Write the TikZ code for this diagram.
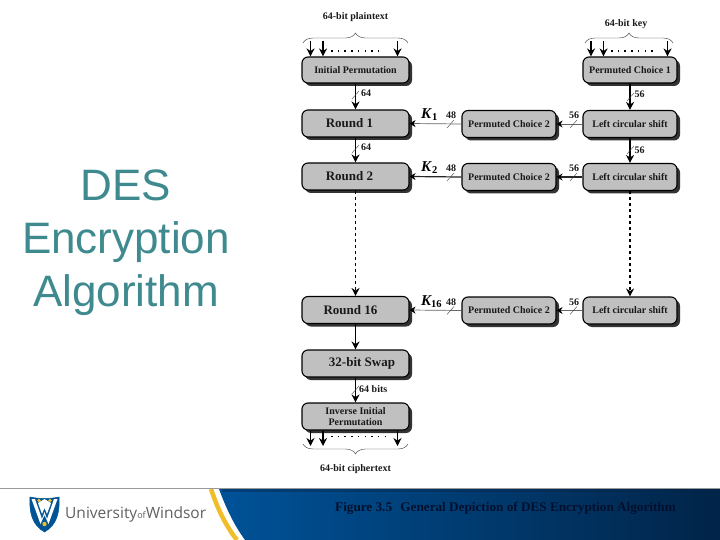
\documentclass[tikz,border=0pt]{standalone}
\usepackage{fontspec}
\setmainfont{Liberation Serif}
\newfontfamily\titlefont{Liberation Sans}
\newfontfamily\logofont{Open Sans}
\usetikzlibrary{arrows.meta,decorations.pathreplacing}
\definecolor{boxgray}{RGB}{192,192,192}
\definecolor{titleteal}{RGB}{62,138,143}
\definecolor{bandleft}{RGB}{0,82,152}
\definecolor{bandright}{RGB}{1,36,72}
\definecolor{capnavy}{RGB}{2,16,46}
\definecolor{logoblue}{RGB}{0,84,150}
\definecolor{logogold}{RGB}{240,190,40}
\tikzset{
  x=1pt,y=-1pt,
  stepbox/.style={draw=black,line width=1.1pt,fill=boxgray,rounded corners=6pt,inner sep=0pt,align=center,
    text=black!90,
    preaction={draw=none,fill=black!80,transform canvas={xshift=3pt,yshift=-3pt}}},
  lbox/.style={stepbox,minimum width=107pt},
  rbox/.style={stepbox,minimum width=94pt,minimum height=27pt,font=\bfseries\fontsize{10}{10}\selectfont},
  bigbox/.style={lbox,minimum height=27pt,font=\bfseries\fontsize{13}{13}\selectfont},
  smallbox/.style={lbox,font=\bfseries\fontsize{10}{10.5}\selectfont},
  flow/.style={draw=black,line width=1.2pt,-{Stealth[length=8pt,width=8pt]}},
  thinflow/.style={draw=black!60,line width=.7pt,-{Stealth[length=6pt,width=7pt,color=black]}},
  darkflow/.style={draw=black!85,line width=1.2pt,-{Stealth[length=6pt,width=7pt,color=black]}},
  dots/.style={draw=black,line width=1.1pt,dash pattern=on 1.5pt off 5.2pt},
  dashflow/.style={flow,dash pattern=on 3pt off 3pt},
  brace/.style={draw=black!80,line width=.4pt,decorate,decoration={brace,amplitude=10pt}},
  lab/.style={font=\bfseries\fontsize{10}{10}\selectfont,text=black!90,inner sep=0pt},
  keylab/.style={font=\itshape\bfseries\fontsize{15}{15}\selectfont,inner sep=0pt},
  slash/.style={draw=black!75,line width=.4pt},
  heading/.style={font=\titlefont\fontsize{44}{53}\selectfont,text=titleteal,align=center,inner sep=0pt},
}
\newcommand{\slashmark}[2]{\draw[slash] (#1-3,#2+4) -- (#1+4,#2-4);}
\begin{document}
\begin{tikzpicture}
\useasboundingbox (0,0) rectangle (720,540);
\fill[white] (0,0) rectangle (720,540);

% title
\node[heading] (title) at (126,243) {DES\\Encryption\\Algorithm};

% left column
\node[smallbox,minimum height=26pt] (ip) at (355.5,70) {Initial Permutation};
\node[bigbox] (r1) at (355.5,123.5) {\hspace*{-12pt}Round 1};
\node[bigbox] (r2) at (355.5,176.5) {\hspace*{-12pt}Round 2};
\node[bigbox] (r16) at (355.5,310) {\hspace*{-10pt}Round 16};
\node[bigbox] (swap) at (355.5,363.5) {\hspace*{13pt}32-bit Swap};
\node[smallbox,minimum height=27pt] (iip) at (355.5,416.5) {Inverse Initial\\Permutation};

% middle column
\node[rbox] (pc21) at (509,124) {Permuted Choice 2};
\node[rbox] (pc22) at (509,177) {Permuted Choice 2};
\node[rbox] (pc216) at (509,310.5) {Permuted Choice 2};

% right column
\node[rbox,minimum height=26pt] (pc1) at (630,70) {Permuted Choice 1};
\node[rbox] (ls1) at (630,124) {Left circular shift};
\node[rbox] (ls2) at (630,177) {Left circular shift};
\node[rbox] (ls16) at (630,310.5) {Left circular shift};

% vertical connectors
\draw[flow] (ip.south) -- (r1.north);
\draw[flow] (r1.south) -- (r2.north);
\draw[dashflow] (r2.south) -- (r16.north);
\draw[flow] (r16.south) -- (swap.north);
\draw[flow] (swap.south) -- (iip.north);
\draw[flow] (pc1.south) -- (ls1.north);
\draw[flow] (ls1.south) -- (ls2.north);
\draw[dashflow] (ls2.south) -- (ls16.north);

% horizontal connectors
\draw[thinflow] (pc21.west) -- (r1.east);
\draw[darkflow] (pc22.west) -- (r2.east);
\draw[thinflow] (pc216.west) -- (r16.east);
\draw[thinflow] (ls1.west) -- (pc21.east);
\draw[darkflow] (ls2.west) -- (pc22.east);
\draw[thinflow] (ls16.west) -- (pc216.east);

% slash marks
\slashmark{355}{95}
\slashmark{355}{149}
\slashmark{355}{390}
\slashmark{630}{97}
\slashmark{630}{150}
\slashmark{450}{124}
\slashmark{450}{177}
\slashmark{450}{310.5}
\slashmark{573}{124}
\slashmark{573}{177}
\slashmark{573}{310.5}

% bit labels
\node[lab] (n1) at (366,93.5) {64};
\node[lab] (n2) at (366,147.5) {64};
\node[lab] (n3) at (639.5,94) {56};
\node[lab] (n4) at (639.5,150) {56};
\node[lab] (n5) at (451,115) {48};
\node[lab] (n6) at (451,168) {48};
\node[lab] (n7) at (451,302) {48};
\node[lab] (n8) at (574,115) {56};
\node[lab] (n9) at (574,168) {56};
\node[lab] (n10) at (574,302) {56};
\node[lab,anchor=west] (n11) at (359,389) {64 bits};

% key labels
\node[keylab,anchor=west] (k1) at (421,115) {K\textsubscript{\kern1pt\upshape 1}};
\node[keylab,anchor=west] (k2) at (421,168) {K\textsubscript{\kern1pt\upshape 2}};
\node[keylab,anchor=west] (k16) at (421,302) {K\textsubscript{\upshape 16}};

% top inputs
\node[lab] (pt) at (355.5,17) {64-bit plaintext};
\node[lab] (key) at (626,24) {64-bit key};
\draw[brace] (303,43) -- (408,43) coordinate[midway] (ptb);
\draw[brace] (585,43) -- (673,43) coordinate[midway] (keyb);
\foreach \x/\n in {310.5/a,323/b,397.5/c}{
  \coordinate (t\n) at (\x,41);
  \draw[flow] (t\n) -- (t\n |- ip.north);
}
\foreach \x/\n in {591/d,603.5/e,667.5/f}{
  \coordinate (t\n) at (\x,41);
  \draw[flow] (t\n) -- (t\n |- pc1.north);
}
\draw[dots] (331,51) -- (382,51);
\draw[dots] (611,51) -- (656,51);

% bottom outputs
\foreach \x/\n in {310.5/g,323/h,397.5/i}{
  \coordinate (b\n) at (\x,446);
  \draw[flow] (b\n |- iip.south) -- (b\n);
}
\draw[dots] (331,436.5) -- (388,436.5);
\draw[brace] (408,444) -- (303,444) coordinate[midway] (ctb);
\node[lab] (ct) at (355.5,469) {64-bit ciphertext};

% footer band
\shade[left color=bandleft,right color=bandright,shading angle=90]
  (219,489) .. controls (226,508) and (234,525) .. (245,540) -- (720,540) -- (720,489) -- cycle;
\shade[top color=bandright,bottom color=bandright,opacity=.4] (222,489) rectangle (720,491);
\draw[logogold,line width=4.5pt] (211,489) .. controls (217,507) and (225,525) .. (237,540);
\draw[black!40,line width=.8pt] (0,488.5) -- (720,488.5);
\node[anchor=center,inner sep=0pt,font=\bfseries\fontsize{13.2}{13}\selectfont,text=capnavy] (cap) at (505.5,508.5)
  {Figure 3.5\hspace{5pt} General Depiction of DES Encryption Algorithm};

% logo
\filldraw[fill=logoblue,draw=logoblue,line width=.5pt]
  (30,497) .. controls (39,499) and (50,499) .. (59,497)
  .. controls (60,512) and (57,525) .. (44.5,532)
  .. controls (32,525) and (29,512) .. (30,497) -- cycle;
\fill[white] (31.5,499) -- (35,499) -- (42,519) -- (44.5,512) -- (47,519) -- (54,499) -- (57.5,499) -- (48.5,524) -- (44.5,515) -- (40.5,524) -- cycle;
\fill[white] (38,503) -- (44.5,499) -- (51,503) -- (47,514) -- (44.5,508) -- (42,514) -- cycle;
\fill[logogold] (39,500.5) circle (1.8);
\fill[logogold] (50,500.5) circle (1.8);
\fill[logogold] (44.5,524) circle (2.2);
\node[anchor=west,inner sep=0pt,font=\logofont\fontsize{15.5}{16}\selectfont,text=black!62] (uw) at (65,514)
  {University{\fontsize{9}{9}\selectfont of}Windsor};
\end{tikzpicture}
\end{document}
